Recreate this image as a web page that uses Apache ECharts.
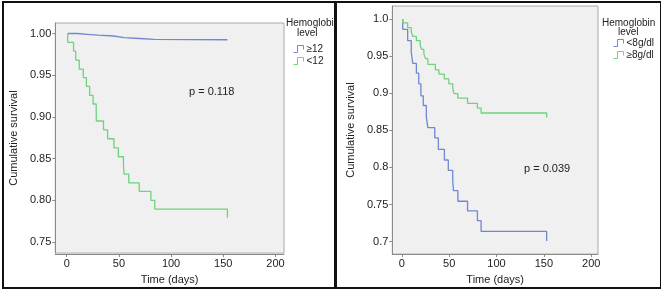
<!DOCTYPE html>
<html><head><meta charset="utf-8">
<script src="https://cdn.jsdelivr.net/npm/echarts@6/dist/echarts.min.js"></script>
<style>
html,body{margin:0;padding:0;background:#fff;}
#wrap{position:relative;width:662px;height:290px;overflow:hidden;background:#fff;}
#c1{position:absolute;left:0;top:0;width:337px;height:290px;}
#c2{position:absolute;left:337px;top:0;width:325px;height:290px;}
.ln{position:absolute;background:#111;}
</style></head><body>
<div id="wrap">
<div id="c1"></div><div id="c2"></div>
<div class="ln" style="left:2px;top:1px;width:659px;height:2px"></div>
<div class="ln" style="left:2px;top:287px;width:659px;height:2px"></div>
<div class="ln" style="left:2px;top:1px;width:2px;height:288px"></div>
<div class="ln" style="left:334px;top:1px;width:3px;height:288px"></div>
<div class="ln" style="left:660px;top:1px;width:1px;height:288px"></div>
</div>
<script>
// ---- data ----
const xTicks = [0, 50, 100, 150, 200];
const yTicksLeft = ['0.75', '0.80', '0.85', '0.90', '0.95', '1.00'];
const yTicksRight = ['0.7', '0.75', '0.8', '0.85', '0.9', '0.95', '1.0'];

const leftNames = ['≥12', '<12'];
const leftTimesHigh = [1, 10, 20, 30, 45, 55, 70, 84, 154];
const leftSurvHigh = [1.0, 0.999, 0.998, 0.997, 0.995, 0.994, 0.993, 0.9925, 0.992];
const leftTimesLow = [1, 1, 6.6, 8.7, 12, 15.9, 18.9, 22, 25.3, 28.3, 28.4, 35.3, 39.2, 45.3, 49.5, 54.4, 55, 59.5, 69.5, 80.7, 84.4, 154];
const leftSurvLow = [1.0, 0.9894, 0.9788, 0.9682, 0.9572, 0.947, 0.9367, 0.9257, 0.9155, 0.9053, 0.8951, 0.8845, 0.8738, 0.8628, 0.8522, 0.842, 0.8314, 0.8208, 0.8106, 0.8, 0.7894, 0.7791];
const leftP = 'p = 0.118';

const rightNames = ['<8g/dl', '≥8g/dl'];
const rightTimesLow = [1, 1, 6.2, 10, 11.6, 15.4, 17.9, 20.2, 22.7, 25.9, 27.5, 34.8, 38.6, 45, 49.1, 53.8, 54.5, 59.2, 69.4, 79.8, 83.7, 152.9];
const rightSurvLow = [1.0, 0.986, 0.9707, 0.9555, 0.9401, 0.927, 0.9126, 0.8965, 0.8834, 0.8681, 0.8537, 0.8397, 0.8244, 0.81, 0.796, 0.782, 0.7689, 0.7545, 0.7414, 0.7283, 0.7139, 0.7008];
const rightTimesHigh = [1, 1, 6.2, 10, 11.6, 15.4, 19.5, 21.1, 23.3, 25, 27.5, 35.4, 39.2, 44.9, 49.7, 53.8, 55.1, 59.2, 69.4, 79.8, 83.7, 152.9];
const rightSurvHigh = [1.0, 0.9947, 0.9882, 0.9829, 0.9764, 0.9707, 0.9641, 0.9589, 0.9532, 0.9465, 0.9389, 0.9314, 0.9257, 0.9192, 0.9126, 0.9065, 0.8995, 0.8934, 0.8864, 0.8799, 0.8733, 0.8672];
const rightP = 'p = 0.039';

const legendTitle1 = 'Hemoglobin';
const legendTitle2 = 'level';
const xName = 'Time (days)';
const yName = 'Cumulative survival';

// ---- styles ----
const BLUE = '#7088d2';
const GREEN = '#6fd27d';
const FONT = 'Liberation Sans, Arial, sans-serif';
const TXT = '#222';

function zip(t, s) { return t.map((v, i) => [v, s[i]]); }

function buildChart(el, cfg) {
  const chart = echarts.init(el, null, {renderer: 'canvas'});
  const yVals = cfg.yTicks.map(Number);
  const labelMap = {};
  cfg.yTicks.forEach(s => { labelMap[Number(s).toFixed(4)] = s; });
  chart.setOption({
    animation: false,
    textStyle: {fontFamily: FONT},
    grid: {left: cfg.grid[0], top: cfg.grid[1], width: cfg.grid[2], height: cfg.grid[3],
      show: true, backgroundColor: '#f0f0f0', borderColor: '#a8a8a8', borderWidth: 1},
    xAxis: {
      type: 'value', min: cfg.xmin, max: cfg.xmax, offset: cfg.xOffset,
      name: xName, nameLocation: 'middle', nameGap: cfg.xNameGap,
      nameTextStyle: {fontSize: 11, color: TXT, fontFamily: FONT},
      axisLine: {show: true, onZero: false, lineStyle: {color: '#8a8a8a', width: 1}},
      axisTick: {show: true, customValues: xTicks, length: 3, lineStyle: {color: '#8a8a8a'}},
      axisLabel: {customValues: xTicks, fontSize: 11, color: TXT, margin: cfg.xLabelMargin, fontFamily: FONT},
      splitLine: {show: false}
    },
    yAxis: {
      type: 'value', min: cfg.ymin, max: cfg.ymax,
      name: yName, nameLocation: 'middle', nameGap: cfg.yNameGap,
      nameTextStyle: {fontSize: 11, color: TXT, fontFamily: FONT},
      axisLine: {show: true, onZero: false, lineStyle: {color: '#8a8a8a', width: 1}},
      axisTick: {show: true, customValues: yVals, length: 3, lineStyle: {color: '#8a8a8a'}},
      axisLabel: {customValues: yVals, fontSize: 11, color: TXT, margin: cfg.yLabelMargin, fontFamily: FONT,
        formatter: v => labelMap[Number(v).toFixed(4)] || String(v)},
      splitLine: {show: false}
    },
    legend: {
      orient: 'vertical', left: cfg.legendPos[0], top: cfg.legendPos[1], padding: 0,
      itemWidth: 12, itemHeight: 7, itemGap: 2, selectedMode: false,
      icon: 'path://M0,8L4,8L4,1L10,1L10,5',
      textStyle: {fontSize: 10, color: TXT, fontFamily: FONT, lineHeight: 9, padding: [0, 0, 0, -3]},
      data: cfg.series.map(s => ({name: s.name, itemStyle: {color: 'rgba(0,0,0,0)', borderColor: s.color, borderWidth: 1}}))
    },
    graphic: [
      {type: 'text', left: cfg.titlePos[0], top: cfg.titlePos[1], z: 10,
        style: {text: legendTitle1, font: '10px ' + FONT, fill: TXT, textAlign: 'center'}},
      {type: 'text', left: cfg.titlePos[2], top: cfg.titlePos[3], z: 10,
        style: {text: legendTitle2, font: '10px ' + FONT, fill: TXT, textAlign: 'center'}},
      {type: 'text', left: cfg.pPos[0], top: cfg.pPos[1], z: 10,
        style: {text: cfg.p, font: '11px ' + FONT, fill: TXT}}
    ],
    series: cfg.series.map(s => ({
      type: 'line', name: s.name, step: 'end', showSymbol: false, symbol: 'none',
      data: zip(s.t, s.s), color: s.color,
      lineStyle: {color: s.color, width: 1.3}, clip: false
    }))
  });
}

buildChart(document.getElementById('c1'), {
  grid: [43, 23, 241, 234], xmin: -10.9, xmax: 208.2, ymin: 0.7367, ymax: 1.0126,
  xOffset: 1, xNameGap: 17, xLabelMargin: 4, yNameGap: 29, yLabelMargin: 4,
  yTicks: yTicksLeft,
  legendPos: [293, 44], titlePos: [286, 18, 297, 28], pPos: [189, 86], p: leftP,
  series: [
    {name: leftNames[0], t: leftTimesHigh, s: leftSurvHigh, color: BLUE},
    {name: leftNames[1], t: leftTimesLow, s: leftSurvLow, color: GREEN}
  ]
});
buildChart(document.getElementById('c2'), {
  grid: [33, 6, 228, 255], xmin: -10, xmax: 207.1, ymin: 0.6833, ymax: 1.0174,
  xOffset: 0, xNameGap: 16, xLabelMargin: 4, yNameGap: 21, yLabelMargin: 4,
  yTicks: yTicksRight,
  legendPos: [276, 38], titlePos: [265, 18, 281, 27], pPos: [187, 163], p: rightP,
  series: [
    {name: rightNames[0], t: rightTimesLow, s: rightSurvLow, color: BLUE},
    {name: rightNames[1], t: rightTimesHigh, s: rightSurvHigh, color: GREEN}
  ]
});
</script>
</body></html>
